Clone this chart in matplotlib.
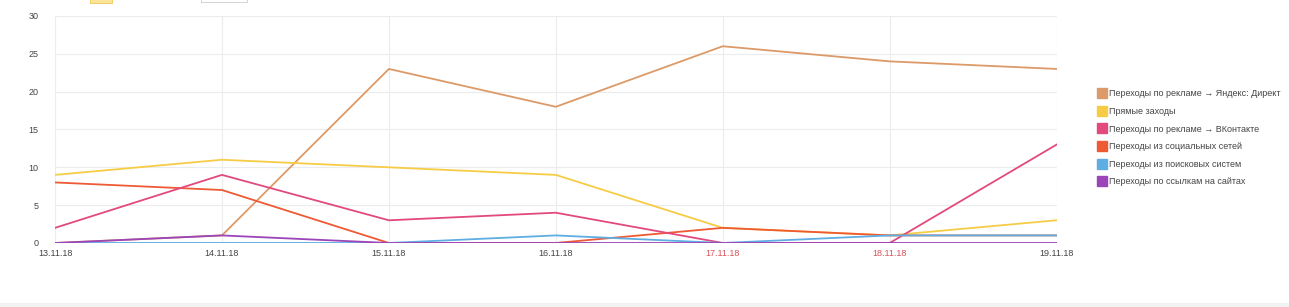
import numpy as np
import matplotlib.pyplot as plt
from matplotlib.lines import Line2D
from matplotlib.patches import Rectangle

plt.rcParams["font.family"] = ["Liberation Sans", "DejaVu Sans"]

dates = ["13.11.18", "14.11.18", "15.11.18", "16.11.18", "17.11.18", "18.11.18", "19.11.18"]
weekend = ["17.11.18", "18.11.18"]

direct = [0, 1, 23, 18, 26, 24, 23]
direct_visits = [9, 11, 10, 9, 2, 1, 3]
vk = [2, 9, 3, 4, 0, 0, 13]
social = [8, 7, 0, 0, 2, 1, 1]
search = [0, 0, 0, 1, 0, 1, 1]
links = [0, 1, 0, 0, 0, 0, 0]

names = [
    "Переходы по рекламе → Яндекс: Директ",
    "Прямые заходы",
    "Переходы по рекламе → ВКонтакте",
    "Переходы из социальных сетей",
    "Переходы из поисковых систем",
    "Переходы по ссылкам на сайтах",
]
colors = ["#dc9a68", "#f7cc45", "#e2497e", "#ee5a34", "#5faee3", "#9b45b8"]
series = [direct, direct_visits, vk, social, search, links]
zorders = [3, 3, 4, 3, 5, 6]

fig = plt.figure(figsize=(12.89, 3.07), dpi=100)
ax = fig.add_axes([0.0427, 0.2085, 0.777, 0.7395])

x = np.arange(len(dates))
for vals, c, z in zip(series, colors, zorders):
    ax.plot(x, vals, color=c, lw=1.3, zorder=z)

ax.set_xlim(0, len(dates) - 1)
ax.set_ylim(0, 30)
ax.set_yticks([0, 5, 10, 15, 20, 25, 30])
ax.set_xticks(x)
ax.set_xticklabels(dates)
for lbl in ax.get_xticklabels():
    if lbl.get_text() in weekend:
        lbl.set_color("#d9535a")
    else:
        lbl.set_color("#444444")
for lbl in ax.get_yticklabels():
    lbl.set_color("#444444")
ax.tick_params(axis="both", length=0, labelsize=6.5)
ax.tick_params(axis="y", pad=12)
ax.tick_params(axis="x", pad=4)
ax.grid(True, color="#ececec", lw=0.8)
ax.set_axisbelow(True)
for s in ax.spines.values():
    s.set_visible(False)

handles = [Line2D([], [], marker="s", ls="none", markersize=6.5, markerfacecolor=c,
                  markeredgecolor=c) for c in colors]
fig.legend(handles, names, loc="upper left", bbox_to_anchor=(0.845, 0.735),
           frameon=False, fontsize=6.5, labelspacing=0.95, handletextpad=0.3,
           handlelength=1.0, labelcolor="#444444")

# remnants of the cropped header and the footer band
fig.patches.append(Rectangle((0.07, 0.99), 0.017, 0.02, transform=fig.transFigure,
                             facecolor="#fbe39a", edgecolor="#f0c850", lw=0.6))
fig.patches.append(Rectangle((0.156, 0.993), 0.036, 0.02, transform=fig.transFigure,
                             facecolor="white", edgecolor="#cccccc", lw=0.6))
fig.patches.append(Rectangle((0, 0), 1, 0.014, transform=fig.transFigure,
                             facecolor="#f2f2f2", edgecolor="none"))

plt.savefig("out.png", dpi=100)
